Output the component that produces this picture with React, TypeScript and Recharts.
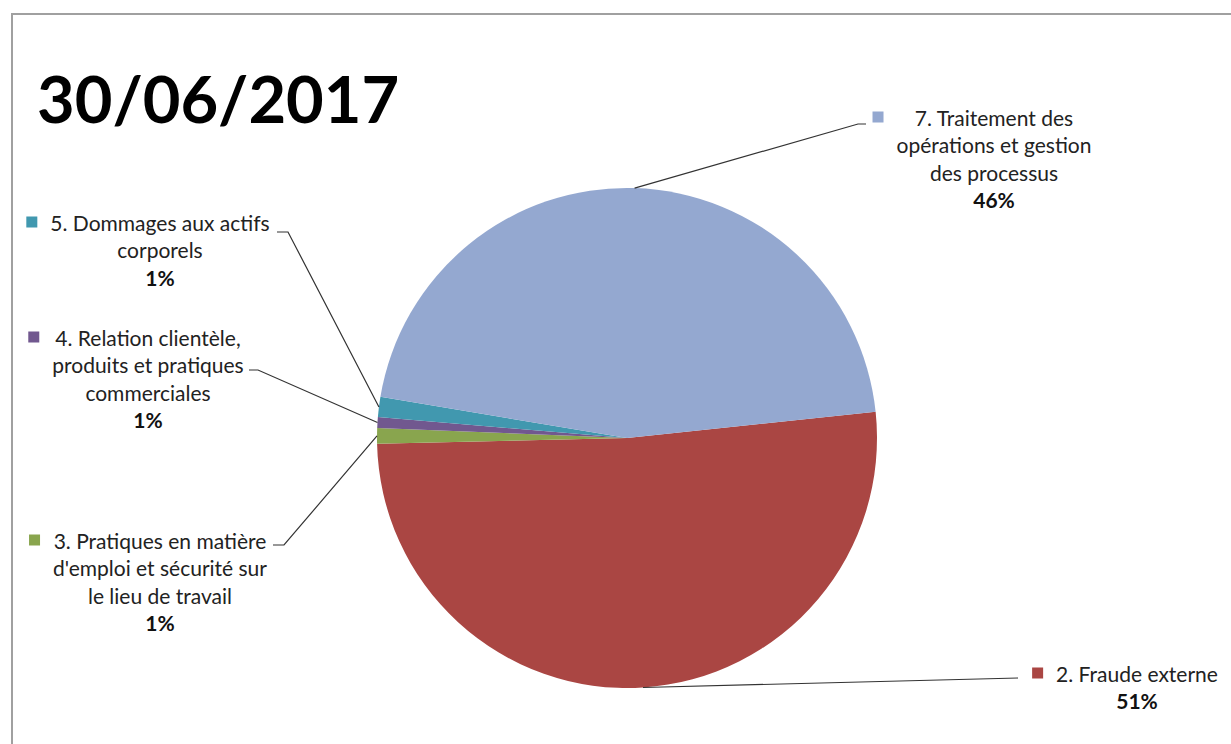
import { PieChart, Pie, Cell } from "recharts";

const categories = [
  "2. Fraude externe",
  "3. Pratiques en matière\nd'emploi et sécurité sur\nle lieu de travail",
  "4. Relation clientèle,\nproduits et pratiques\ncommerciales",
  "5. Dommages aux actifs\ncorporels",
  "7. Traitement des\nopérations et gestion\ndes processus",
];
const shares = [51.3, 1.0, 0.7, 1.3, 45.7];
const COLORS = ["#AA4643", "#89A54E", "#71588F", "#4198AF", "#94A8D0"];
const TITLE = "30/06/2017";

// label placement (text block centre, first line y, leader line bends)
const LABELS = [
  { x: 1137, y: 673, path: [[1018, 678]] },
  { x: 160, y: 540, path: [[284, 545], [273, 545]] },
  { x: 148, y: 337, path: [[258, 370], [249, 370]] },
  { x: 160, y: 222, path: [[288, 232], [277, 232]] },
  { x: 994, y: 117, path: [[858, 124], [866, 124]] },
];

const data = categories.map((name, i) => ({ name, value: shares[i] }));

const FONT = "Lato, 'Open Sans', sans-serif";
const FS = 21;
const LH = 27.5;
const RADIAN = Math.PI / 180;

let ctx: CanvasRenderingContext2D | null = null;
function textWidth(s: string) {
  if (!ctx) ctx = document.createElement("canvas").getContext("2d");
  if (!ctx) return s.length * FS * 0.5;
  ctx.font = `${FS}px Lato`;
  return ctx.measureText(s).width;
}

function renderLabel(props: any) {
  const { cx, cy, midAngle, outerRadius, percent, index, name } = props;
  const lay = LABELS[index];
  const sx = cx + outerRadius * Math.cos(-midAngle * RADIAN);
  const sy = cy + outerRadius * Math.sin(-midAngle * RADIAN);
  const pts = [[sx, sy], ...lay.path].map((p) => p.join(",")).join(" ");
  const lines: string[] = String(name).split("\n");
  const widest = Math.max(...lines.map(textWidth));
  const left = lay.x - widest / 2;
  return (
    <g key={`lbl-${index}`}>
      <polyline points={pts} fill="none" stroke="#333" strokeWidth={1.2} />
      <rect x={left - 24} y={lay.y - 5.5} width={11} height={11} fill={COLORS[index]} />
      {lines.map((l, i) => (
        <text
          key={i}
          x={lay.x}
          y={lay.y + i * LH}
          textAnchor="middle"
          dominantBaseline="central"
          fontFamily={FONT}
          fontSize={FS}
          fill="#222"
        >
          {l}
        </text>
      ))}
      <text
        x={lay.x}
        y={lay.y + lines.length * LH}
        textAnchor="middle"
        dominantBaseline="central"
        fontFamily={FONT}
        fontSize={FS}
        fontWeight="bold"
        fill="#111"
      >
        {`${Math.round(percent * 100)}%`}
      </text>
    </g>
  );
}

export default function App() {
  return (
    <div style={{ position: "absolute", left: 0, top: 0, width: 1231, height: 744, background: "#fff", overflow: "hidden" }}>
      <div
        style={{
          position: "absolute",
          left: 11,
          top: 13,
          width: 1300,
          height: 800,
          borderTop: "2px solid #a0a0a0",
          borderLeft: "2px solid #a0a0a0",
        }}
      />
      <PieChart
        width={1231}
        height={744}
        margin={{ top: 0, right: 0, bottom: 0, left: 0 }}
        style={{ position: "absolute", left: 0, top: 0 }}
      >
        <text x={37} y={123} fontFamily={FONT} fontSize={65} fontWeight="bold" fill="#000">
          {TITLE}
        </text>
        <Pie
          data={data}
          dataKey="value"
          nameKey="name"
          cx={627}
          cy={438}
          outerRadius={250}
          startAngle={6}
          endAngle={-354}
          stroke="none"
          label={renderLabel}
          labelLine={false}
          isAnimationActive={false}
        >
          {data.map((d, i) => (
            <Cell key={d.name} fill={COLORS[i]} />
          ))}
        </Pie>
      </PieChart>
    </div>
  );
}
